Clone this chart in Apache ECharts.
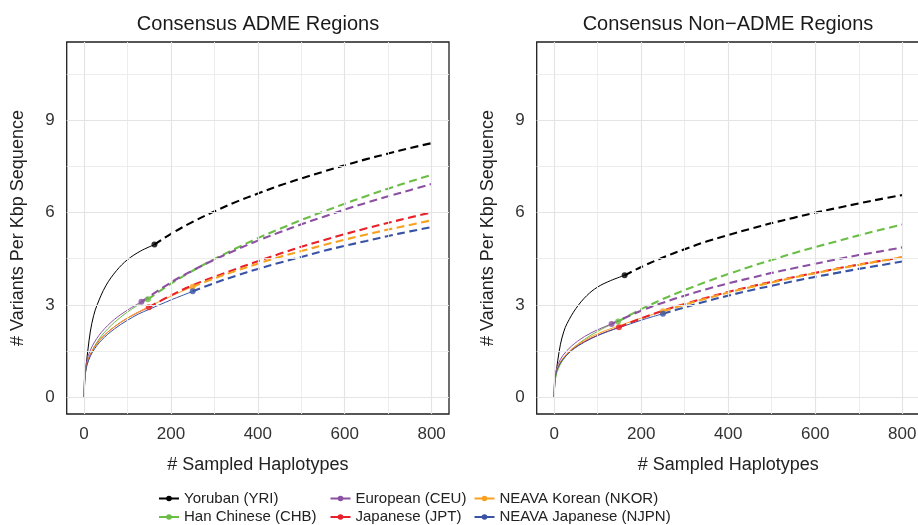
<!DOCTYPE html>
<html><head><meta charset="utf-8">
<script src="https://cdn.jsdelivr.net/npm/echarts@6/dist/echarts.min.js"></script>
<style>html,body{margin:0;padding:0;background:#fff}#c{width:918px;height:525px}</style>
</head><body><div id="c"></div>
<script>
const populations = ['Yoruban (YRI)','Han Chinese (CHB)','European (CEU)','Japanese (JPT)','NEAVA Korean (NKOR)','NEAVA Japanese (NJPN)'];
const colors = ['#000000','#6ABD45','#8B50A1','#E8202A','#F8A11F','#3953A4'];
const panelTitles = ['Consensus ADME Regions','Consensus Non\u2212ADME Regions'];
const xTicks = [0,200,400,600,800];
const xMinor = [100,300,500,700];
const yTicks = [0,3,6,9];
const yMinor = [1.5,4.5,7.5,10.5];

// ---- ADME panel: observed (solid) and extrapolated (dashed) ----
const adme_YRI = [[0,0],[1,0.35],[2,0.55],[4.6,1.0],[8.5,1.5],[14.6,2.15],[22,2.65],[30,3.0],[50,3.62],[75,4.12],[100,4.47],[130,4.75],[162,4.96]];
const adme_YRI_ext = [[162,4.96],[200,5.31],[250,5.70],[300,6.04],[350,6.35],[400,6.62],[450,6.88],[500,7.11],[550,7.33],[600,7.54],[650,7.74],[700,7.92],[750,8.10],[800,8.26]];
const adme_CHB = [[0,0],[1,0.53],[2,0.68],[5,0.94],[10,1.21],[20,1.55],[40,1.99],[70,2.43],[100,2.77],[125,3.00],[147,3.18]];
const adme_CHB_ext = [[147,3.18],[200,3.69],[250,4.11],[300,4.49],[350,4.84],[400,5.17],[450,5.47],[500,5.76],[550,6.03],[600,6.29],[650,6.54],[700,6.78],[750,7.01],[800,7.23]];
const adme_CEU = [[0,0],[1,0.65],[2,0.81],[5,1.09],[10,1.36],[20,1.69],[40,2.11],[70,2.53],[100,2.83],[132,3.10]];
const adme_CEU_ext = [[132,3.10],[200,3.73],[250,4.12],[300,4.47],[350,4.79],[400,5.09],[450,5.36],[500,5.62],[550,5.86],[600,6.10],[650,6.32],[700,6.53],[750,6.73],[800,6.93]];
const adme_JPT = [[0,0],[1,0.59],[2,0.73],[5,0.99],[10,1.23],[20,1.54],[40,1.92],[70,2.29],[100,2.57],[125,2.76],[149,2.92]];
const adme_JPT_ext = [[149,2.92],[200,3.31],[250,3.64],[300,3.91],[350,4.17],[400,4.42],[450,4.66],[500,4.89],[550,5.10],[600,5.30],[650,5.49],[700,5.67],[750,5.84],[800,6.01]];
const adme_NKOR = [[0,0],[1,0.58],[2,0.72],[5,0.98],[10,1.22],[20,1.53],[40,1.91],[70,2.29],[100,2.57],[125,2.77],[149,2.94],[175,3.12],[200,3.28],[225,3.44],[250,3.59]];
const adme_NKOR_ext = [[250,3.59],[300,3.86],[350,4.11],[400,4.34],[450,4.56],[500,4.75],[550,4.94],[600,5.12],[650,5.29],[700,5.45],[750,5.60],[800,5.75]];
const adme_NJPN = [[0,0],[1,0.56],[2,0.70],[5,0.95],[10,1.18],[20,1.48],[40,1.85],[70,2.22],[100,2.50],[125,2.70],[149,2.85],[175,3.01],[200,3.16],[225,3.30],[250,3.44]];
const adme_NJPN_ext = [[250,3.44],[300,3.71],[350,3.95],[400,4.17],[450,4.37],[500,4.56],[550,4.75],[600,4.92],[650,5.08],[700,5.24],[750,5.39],[800,5.53]];

// ---- Non-ADME panel ----
const non_YRI = [[0,0],[1,0.28],[2,0.44],[4.6,0.8],[8.5,1.2],[14.6,1.72],[22,2.12],[30,2.4],[50,2.88],[75,3.30],[100,3.58],[130,3.79],[162,3.96]];
const non_YRI_ext = [[162,3.96],[200,4.23],[250,4.54],[300,4.81],[350,5.06],[400,5.27],[450,5.47],[500,5.66],[550,5.83],[600,6.00],[650,6.15],[700,6.30],[750,6.44],[800,6.57]];
const non_CHB = [[0,0],[1,0.41],[2,0.52],[5,0.73],[10,0.93],[20,1.20],[40,1.54],[70,1.88],[100,2.14],[125,2.32],[147,2.46]];
const non_CHB_ext = [[147,2.46],[200,2.86],[250,3.19],[300,3.48],[350,3.75],[400,4.00],[450,4.24],[500,4.46],[550,4.68],[600,4.88],[650,5.07],[700,5.26],[750,5.44],[800,5.61]];
const non_CEU = [[0,0],[1,0.55],[2,0.68],[5,0.89],[10,1.10],[20,1.35],[40,1.66],[70,1.97],[100,2.19],[132,2.38]];
const non_CEU_ext = [[132,2.38],[200,2.81],[250,3.07],[300,3.30],[350,3.51],[400,3.70],[450,3.87],[500,4.04],[550,4.19],[600,4.34],[650,4.48],[700,4.62],[750,4.74],[800,4.87]];
const non_JPT = [[0,0],[1,0.51],[2,0.62],[5,0.82],[10,1.01],[20,1.24],[40,1.53],[70,1.81],[100,2.01],[125,2.15],[149,2.27]];
const non_JPT_ext = [[149,2.27],[200,2.56],[250,2.81],[300,3.03],[350,3.23],[400,3.42],[450,3.59],[500,3.75],[550,3.90],[600,4.04],[650,4.18],[700,4.31],[750,4.43],[800,4.55]];
const non_NKOR = [[0,0],[1,0.51],[2,0.63],[5,0.83],[10,1.02],[20,1.26],[40,1.56],[70,1.85],[100,2.06],[125,2.20],[149,2.32],[175,2.45],[200,2.57],[225,2.68],[250,2.79]];
const non_NKOR_ext = [[250,2.79],[300,3.01],[350,3.21],[400,3.40],[450,3.57],[500,3.73],[550,3.89],[600,4.03],[650,4.17],[700,4.30],[750,4.43],[800,4.55]];
const non_NJPN = [[0,0],[1,0.50],[2,0.61],[5,0.81],[10,0.99],[20,1.22],[40,1.51],[70,1.79],[100,2.00],[125,2.14],[149,2.26],[175,2.38],[200,2.50],[225,2.61],[250,2.71]];
const non_NJPN_ext = [[250,2.71],[300,2.92],[350,3.12],[400,3.30],[450,3.47],[500,3.62],[550,3.77],[600,3.91],[650,4.04],[700,4.17],[750,4.29],[800,4.41]];

const observed = [
  [adme_YRI, adme_CHB, adme_CEU, adme_JPT, adme_NKOR, adme_NJPN],
  [non_YRI, non_CHB, non_CEU, non_JPT, non_NKOR, non_NJPN]
];
const extrapolated = [
  [adme_YRI_ext, adme_CHB_ext, adme_CEU_ext, adme_JPT_ext, adme_NKOR_ext, adme_NJPN_ext],
  [non_YRI_ext, non_CHB_ext, non_CEU_ext, non_JPT_ext, non_NKOR_ext, non_NJPN_ext]
];

const FONT = "'Liberation Sans', Arial, Helvetica, sans-serif";
const gridsPos = [
  {left: 66.7, top: 42, width: 382.3, height: 372},
  {left: 536.7, top: 42, width: 383, height: 372}
];
const centers = [258, 728];

function gridMarkLines() {
  const d = [];
  xMinor.forEach(v => d.push({xAxis: v, lineStyle: {color: '#EBEBEB', width: 0.9, type: 'solid'}}));
  yMinor.forEach(v => d.push({yAxis: v, lineStyle: {color: '#EBEBEB', width: 0.9, type: 'solid'}}));
  xTicks.forEach(v => d.push({xAxis: v, lineStyle: {color: '#E4E4E4', width: 1.2, type: 'solid'}}));
  yTicks.forEach(v => d.push({yAxis: v, lineStyle: {color: '#E4E4E4', width: 1.2, type: 'solid'}}));
  return d;
}

const grid = [], xAxis = [], yAxis = [], series = [], graphic = [];
for (let p = 0; p < 2; p++) {
  grid.push(Object.assign({show: true, borderColor: '#1f1f1f', borderWidth: 1.3, backgroundColor: 'transparent',
    containLabel: false, outerBoundsMode: 'none'}, gridsPos[p]));
  xAxis.push({
    type: 'value', gridIndex: p, min: -40, max: 840,
    name: '# Sampled Haplotypes', nameLocation: 'middle', nameGap: 42,
    nameTextStyle: {fontSize: 18, color: '#222', fontFamily: FONT},
    axisLine: {show: false},
    axisTick: {show: true, length: 4, customValues: xTicks, lineStyle: {color: '#333', width: 1}},
    axisLabel: {show: true, customValues: xTicks, margin: 12, fontSize: 17, color: '#333', fontFamily: FONT},
    splitLine: {show: false}
  });
  yAxis.push({
    type: 'value', gridIndex: p, min: -0.55, max: 11.55,
    name: '# Variants Per Kbp Sequence', nameLocation: 'middle', nameGap: 40,
    nameTextStyle: {fontSize: 18, color: '#222', fontFamily: FONT},
    axisLine: {show: false},
    axisTick: {show: true, length: 4, customValues: yTicks, lineStyle: {color: '#333', width: 1}},
    axisLabel: {show: true, customValues: yTicks, margin: 12, fontSize: 17, color: '#333', fontFamily: FONT},
    splitLine: {show: false}
  });
  graphic.push({type: 'text', x: centers[p], y: 24, z: 10,
    style: {text: panelTitles[p], fontSize: 20, fontFamily: FONT, fill: '#1a1a1a', textAlign: 'center', textVerticalAlign: 'middle'}});
  series.push({
    type: 'line', name: 'gridlines', xAxisIndex: p, yAxisIndex: p, data: [[-100, -100]],
    showSymbol: false, symbol: 'none', lineStyle: {opacity: 0}, z: 1, silent: true,
    markLine: {silent: true, symbol: ['none', 'none'], label: {show: false}, animation: false, data: gridMarkLines()}
  });
}
for (let p = 0; p < 2; p++) {
  populations.forEach((name, i) => {
    series.push({
      type: 'line', name, xAxisIndex: p, yAxisIndex: p, data: observed[p][i],
      symbol: 'circle', showSymbol: false, smooth: 0.35,
      lineStyle: {width: 1, color: colors[i]}, itemStyle: {color: colors[i]}, z: 2, silent: true
    });
  });
}
for (let p = 0; p < 2; p++) {
  populations.forEach((name, i) => {
    series.push({
      type: 'line', name, xAxisIndex: p, yAxisIndex: p, data: extrapolated[p][i],
      symbol: 'none', showSymbol: false, smooth: 0.35,
      lineStyle: {width: 2.1, color: colors[i], type: [8, 4.5]}, itemStyle: {color: colors[i]}, z: 3, silent: true
    });
  });
}
for (let p = 0; p < 2; p++) {
  populations.forEach((name, i) => {
    const obs = observed[p][i];
    series.push({
      type: 'scatter', name, xAxisIndex: p, yAxisIndex: p, data: [obs[obs.length - 1]],
      symbol: 'circle', symbolSize: 6, itemStyle: {color: colors[i]}, z: 4, silent: true
    });
  });
}

const legendLefts = [158, 158, 329.5, 329.5, 473.5, 473.5];
const legendTops = [491, 509.5, 491, 509.5, 491, 509.5];
const legend = populations.map((name, i) => ({
  data: [name], left: legendLefts[i], top: legendTops[i], orient: 'horizontal', padding: 0,
  itemWidth: 20, itemHeight: 7, selectedMode: false, lineStyle: {width: 2},
  textStyle: {fontSize: 15, color: '#222', fontFamily: FONT}
}));

const chart = echarts.init(document.getElementById('c'), null, {renderer: 'canvas'});
chart.setOption({
  animation: false,
  backgroundColor: '#fff',
  textStyle: {fontFamily: FONT},
  grid, xAxis, yAxis, series, graphic, legend
});
</script>
</body></html>
